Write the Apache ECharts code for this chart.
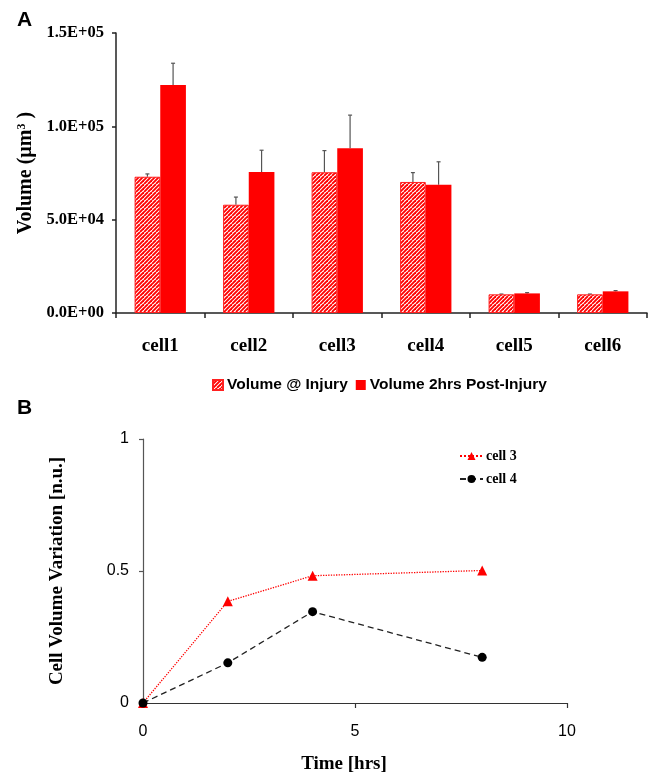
<!DOCTYPE html>
<html lang="en">
<head>
    <meta charset="UTF-8">
    <title>cell volume</title>
    <script src="https://cdn.jsdelivr.net/npm/echarts@6/dist/echarts.min.js"></script>
    <style>
        html, body { margin: 0; padding: 0; background: #fff; }
        #main { width: 650px; height: 775px; }
    </style>
</head>
<body>
<div id="main"></div>
<script>
    // panel A data
    var categories = ['cell1', 'cell2', 'cell3', 'cell4', 'cell5', 'cell6'];
    var volInjury = [73000, 58000, 75400, 70200, 10000, 10000];
    var volInjurySd = [1500, 4100, 11600, 5000, 150, 150];
    var volPost = [122100, 75500, 88200, 68700, 10500, 11600];
    var volPostSd = [11700, 11700, 17800, 12300, 400, 400];
    var volTicks = [0, 50000, 100000, 150000];

    // panel B data
    var timeHrs = [0, 2, 4, 8];
    var cell3 = [0, 0.385, 0.482, 0.502];
    var cell4 = [0, 0.152, 0.346, 0.173];

    var BAR_FRAC = 0.29;
    var serif = '"Liberation Serif", "Times New Roman", serif';
    var sans = '"Liberation Sans", Arial, sans-serif';

    // hatch pattern for "Volume @ Injury"
    var hatch = document.createElement('canvas');
    hatch.width = 8;
    hatch.height = 8;
    var ctx = hatch.getContext('2d');
    ctx.fillStyle = '#fff';
    ctx.fillRect(0, 0, 8, 8);
    ctx.strokeStyle = '#ff0000';
    ctx.lineWidth = 1.9;
    for (var k = -8; k <= 8; k += 4) {
        ctx.beginPath();
        ctx.moveTo(k, 8);
        ctx.lineTo(k + 8, 0);
        ctx.stroke();
    }

    function sciLabel(v) {
        if (v === 0) return '0.0E+00';
        var e = Math.floor(Math.log10(v));
        var m = v / Math.pow(10, e);
        return m.toFixed(1) + 'E+' + (e < 10 ? '0' + e : e);
    }

    function errData(vals, sd, side) {
        return vals.map(function (v, i) {
            return [i, v, v + sd[i], side];
        });
    }

    function renderErr(params, api) {
        var i = api.value(0), lo = api.value(1), hi = api.value(2), side = api.value(3);
        var bw = api.size([1, 0])[0] * BAR_FRAC;
        var p0 = api.coord([i, lo]);
        var p1 = api.coord([i, hi]);
        var x = p0[0] + side * bw / 2;
        var st = {stroke: '#555', lineWidth: 1.2};
        return {
            type: 'group',
            children: [
                {type: 'line', shape: {x1: x, y1: p0[1], x2: x, y2: p1[1]}, style: st},
                {type: 'line', shape: {x1: x - 2, y1: p1[1], x2: x + 2, y2: p1[1]}, style: st}
            ]
        };
    }

    function zip(xs, ys) {
        return xs.map(function (x, i) { return [x, ys[i]]; });
    }

    var chart = echarts.init(document.getElementById('main'));
    var option = {
        animation: false,
        graphic: [
            {type: 'text', left: 17, top: 10, style: {text: 'A', font: 'bold 21px ' + sans, fill: '#000'}},
            {type: 'text', left: 17, top: 398, style: {text: 'B', font: 'bold 21px ' + sans, fill: '#000'}}
        ],
        legend: [
            {
                left: 212,
                top: 377,
                padding: 0,
                icon: 'rect',
                itemWidth: 10,
                itemHeight: 10,
                itemGap: 8,
                data: ['Volume @ Injury', 'Volume 2hrs Post-Injury'],
                textStyle: {fontFamily: sans, fontWeight: 'bold', fontSize: 15.5, color: '#000', padding: [0, 0, 0, -1]}
            },
            {
                orient: 'vertical',
                left: 459,
                top: 449,
                padding: 0,
                itemWidth: 23,
                itemHeight: 10,
                itemGap: 9,
                data: ['cell 3', 'cell 4'],
                textStyle: {fontFamily: serif, fontWeight: 'bold', fontSize: 14, color: '#000', padding: [0, 0, 0, -2]}
            }
        ],
        grid: [
            {left: 116, right: 3, top: 33, height: 280},
            {left: 143, right: 83, top: 439, height: 264}
        ],
        xAxis: [
            {
                gridIndex: 0,
                type: 'category',
                data: categories,
                axisLine: {lineStyle: {color: '#222', width: 1.5}},
                axisTick: {show: true, length: 5, lineStyle: {color: '#222', width: 1.5}},
                axisLabel: {margin: 24, fontFamily: serif, fontWeight: 'bold', fontSize: 19, color: '#000'}
            },
            {
                gridIndex: 1,
                type: 'value',
                min: 0,
                max: 10,
                interval: 5,
                splitLine: {show: false},
                axisLine: {show: true, lineStyle: {color: '#333', width: 1.2}},
                axisTick: {show: true, length: 5, lineStyle: {color: '#333', width: 1.2}},
                axisLabel: {margin: 21, fontFamily: sans, fontSize: 16, color: '#000'},
                name: 'Time [hrs]',
                nameLocation: 'middle',
                nameGap: 52,
                nameTextStyle: {fontFamily: serif, fontWeight: 'bold', fontSize: 19, color: '#000', padding: [0, 22, 0, 0]}
            }
        ],
        yAxis: [
            {
                gridIndex: 0,
                type: 'value',
                min: volTicks[0],
                max: volTicks[volTicks.length - 1],
                interval: volTicks[1] - volTicks[0],
                splitLine: {show: false},
                axisLine: {show: true, lineStyle: {color: '#222', width: 1.5}},
                axisTick: {show: true, length: 4, lineStyle: {color: '#222', width: 1.5}},
                axisLabel: {
                    margin: 12,
                    fontFamily: serif, fontWeight: 'bold', fontSize: 16.5, color: '#000',
                    formatter: sciLabel
                },
                name: 'Volume (µm{sup|3} )',
                nameLocation: 'middle',
                nameGap: 80,
                nameTextStyle: {
                    fontFamily: serif, fontWeight: 'bold', fontSize: 20, color: '#000',
                    rich: {sup: {fontFamily: serif, fontWeight: 'bold', fontSize: 12, color: '#000', verticalAlign: 'top', padding: [0, 0, 8, 0]}}
                }
            },
            {
                gridIndex: 1,
                type: 'value',
                min: 0,
                max: 1,
                interval: 0.5,
                splitLine: {show: false},
                axisLine: {show: true, lineStyle: {color: '#555', width: 1.2}},
                axisTick: {show: true, length: 4, lineStyle: {color: '#555', width: 1.2}},
                axisLabel: {margin: 14, fontFamily: sans, fontSize: 16, color: '#000'},
                name: 'Cell Volume Variation [n.u.]',
                nameLocation: 'middle',
                nameGap: 76,
                nameTextStyle: {fontFamily: serif, fontWeight: 'bold', fontSize: 19, color: '#000'}
            }
        ],
        series: [
            {
                name: 'Volume @ Injury',
                type: 'bar',
                xAxisIndex: 0,
                yAxisIndex: 0,
                barWidth: (BAR_FRAC * 100) + '%',
                barGap: '0%',
                data: volInjury,
                itemStyle: {color: {image: hatch, repeat: 'repeat'}, borderColor: '#ff2020', borderWidth: 1}
            },
            {
                name: 'Volume 2hrs Post-Injury',
                type: 'bar',
                xAxisIndex: 0,
                yAxisIndex: 0,
                barWidth: (BAR_FRAC * 100) + '%',
                barGap: '0%',
                data: volPost,
                itemStyle: {color: '#ff0000'}
            },
            {
                type: 'custom',
                xAxisIndex: 0,
                yAxisIndex: 0,
                renderItem: renderErr,
                encode: {x: 0, y: [1, 2]},
                data: errData(volInjury, volInjurySd, -1),
                z: 1
            },
            {
                type: 'custom',
                xAxisIndex: 0,
                yAxisIndex: 0,
                renderItem: renderErr,
                encode: {x: 0, y: [1, 2]},
                data: errData(volPost, volPostSd, 1),
                z: 1
            },
            {
                name: 'cell 3',
                type: 'line',
                xAxisIndex: 1,
                yAxisIndex: 1,
                data: zip(timeHrs, cell3),
                symbol: 'triangle',
                symbolSize: 10,
                itemStyle: {color: '#ff0000'},
                lineStyle: {color: '#ff0000', type: 'dotted', width: 1.3}
            },
            {
                name: 'cell 4',
                type: 'line',
                xAxisIndex: 1,
                yAxisIndex: 1,
                data: zip(timeHrs, cell4),
                symbol: 'circle',
                symbolSize: 9,
                itemStyle: {color: '#000'},
                lineStyle: {color: '#222', type: [6, 4], width: 1.3}
            }
        ]
    };
    chart.setOption(option);
</script>
</body>
</html>
